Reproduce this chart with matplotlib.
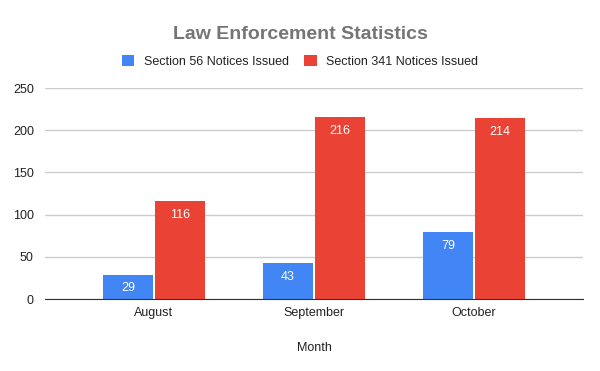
import numpy as np
import matplotlib
matplotlib.use('Agg')
import matplotlib.pyplot as plt

# =========================
# DATA
# =========================

months = ['August', 'September', 'October']

section_56 = [29, 43, 79]

section_341 = [116, 216, 214]

# =========================
# PLOT
# =========================

plt.rcParams['font.family'] = ['Liberation Sans', 'DejaVu Sans']

fig = plt.figure(figsize=(6, 3.71), dpi=100)

ax = fig.add_axes([0.075, 0.194, 0.8967, 0.5688])

x = np.arange(len(months))
width = 0.31
offset = 0.1625

bars_56 = ax.bar(x - offset, section_56, width, color='#4285F4',
                 label='Section 56 Notices Issued', zorder=3)
bars_341 = ax.bar(x + offset, section_341, width, color='#EA4335',
                  label='Section 341 Notices Issued', zorder=3)

for bars in (bars_56, bars_341):
    for bar in bars:
        ax.annotate(
            str(int(bar.get_height())),
            (bar.get_x() + bar.get_width() / 2, bar.get_height()),
            xytext=(0, -10), textcoords='offset points',
            ha='center', va='center', color='white', fontsize=9,
            zorder=4
        )

ax.set_xlim(-0.68, 2.68)
ax.set_ylim(0, 250)
ax.set_yticks([0, 50, 100, 150, 200, 250])
ax.set_xticks(x)
ax.set_xticklabels(months)

ax.grid(axis='y', color='#cccccc', linewidth=1, zorder=0)

for side in ['top', 'right', 'left']:
    ax.spines[side].set_visible(False)
ax.spines['bottom'].set_color('#333333')
ax.spines['bottom'].set_zorder(5)

ax.tick_params(axis='both', length=0, labelsize=9, labelcolor='#222222')
ax.tick_params(axis='y', pad=8)
ax.tick_params(axis='x', pad=6)

ax.set_xlabel('Month', fontsize=9, color='#222222', labelpad=16)

fig.text(0.5, 0.906, 'Law Enforcement Statistics', ha='center',
         va='center', fontsize=14, fontweight='bold', color='#757575')

fig.legend(
    loc='center', bbox_to_anchor=(0.5, 0.835), ncol=2, frameon=False,
    fontsize=9, handlelength=1.0, handleheight=1.0, columnspacing=1.2,
    handletextpad=0.8, labelcolor='#222222'
)

fig.savefig('out.png', dpi=100)
